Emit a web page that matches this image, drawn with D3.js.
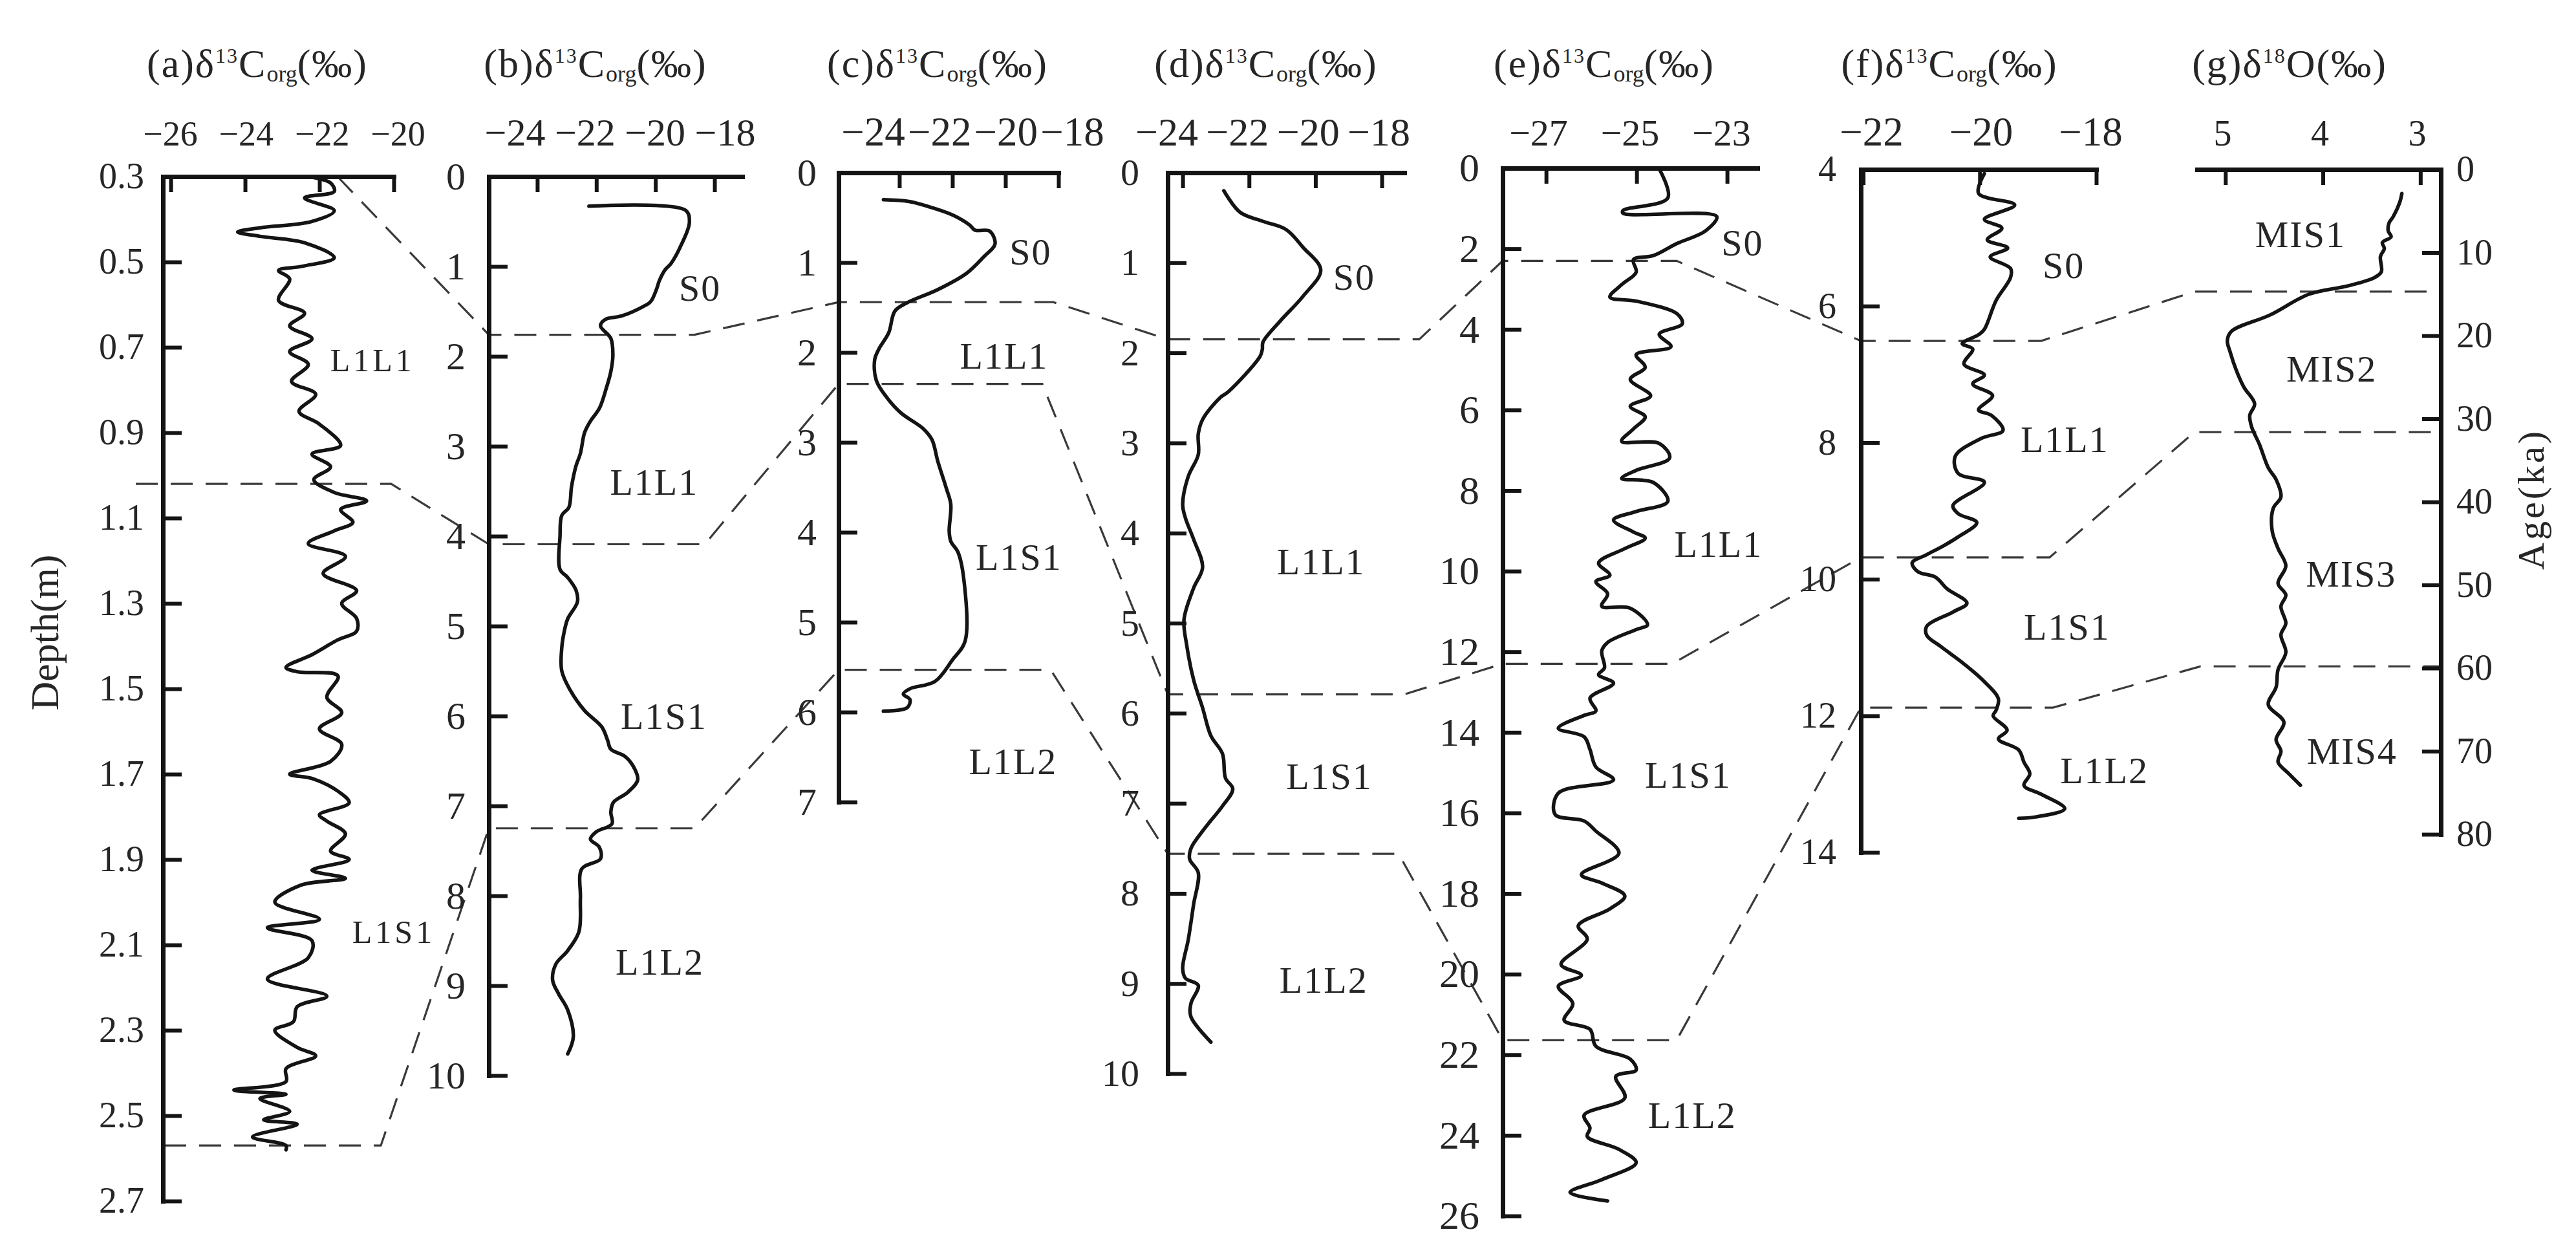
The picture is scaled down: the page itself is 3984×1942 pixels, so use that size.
<!DOCTYPE html>
<html><head><meta charset="utf-8">
<script src="https://cdn.jsdelivr.net/npm/d3@7"></script>
<style>
html,body{margin:0;padding:0;background:#fff;}
svg{display:block;}
</style></head><body>
<svg id="chart" width="3984" height="1942"></svg>
<script>
// ---------------- DATA ----------------
// [depth (m) or age (ka), isotope value (‰)]
const seriesA = [[0.30,-22.3],[0.315,-21.7],[0.335,-21.6],[0.35,-22.4],[0.38,-21.6],[0.405,-22.2],[0.42,-23.6],[0.43,-24.2],[0.44,-23.6],[0.455,-22.4],[0.49,-21.6],[0.51,-22.45],[0.52,-23.1],[0.54,-22.8],[0.59,-23.1],[0.62,-22.4],[0.65,-22.8],[0.68,-22.2],[0.71,-22.8],[0.74,-22.3],[0.78,-22.75],[0.81,-22.1],[0.85,-22.55],[0.88,-22.0],[0.93,-21.43],[0.95,-22.2],[0.98,-21.7],[1.01,-22.15],[1.04,-21.6],[1.06,-20.73],[1.08,-21.43],[1.11,-21.1],[1.13,-21.6],[1.16,-22.3],[1.19,-21.3],[1.23,-21.9],[1.27,-21.0],[1.30,-21.4],[1.335,-21.0],[1.365,-21.0],[1.385,-21.5],[1.42,-22.2],[1.45,-22.9],[1.46,-22.6],[1.47,-21.5],[1.52,-21.8],[1.556,-21.4],[1.594,-22.0],[1.63,-21.4],[1.67,-21.7],[1.70,-22.8],[1.71,-22.2],[1.74,-21.5],[1.767,-21.2],[1.795,-22.0],[1.81,-21.8],[1.84,-21.3],[1.88,-21.7],[1.90,-21.2],[1.925,-22.2],[1.944,-21.3],[1.96,-22.5],[2.0,-23.2],[2.04,-22.0],[2.06,-23.4],[2.09,-22.2],[2.13,-22.3],[2.18,-23.4],[2.22,-21.8],[2.245,-22.6],[2.28,-22.7],[2.30,-23.2],[2.34,-22.6],[2.36,-22.1],[2.39,-22.9],[2.42,-22.9],[2.44,-24.3],[2.45,-22.9],[2.46,-23.6],[2.49,-22.8],[2.51,-23.5],[2.52,-22.6],[2.55,-23.8],[2.57,-22.9],[2.58,-22.9]];
const seriesB = [[0.33,-22.25],[0.375,-18.98],[0.51,-18.85],[0.79,-19.17],[0.97,-19.48],[1.04,-19.68],[1.16,-19.87],[1.25,-19.96],[1.39,-20.16],[1.45,-20.44],[1.55,-21.14],[1.59,-21.7],[1.66,-21.86],[1.8,-21.51],[1.98,-21.44],[2.17,-21.51],[2.35,-21.66],[2.58,-21.9],[2.72,-22.2],[2.85,-22.4],[3.08,-22.54],[3.22,-22.69],[3.45,-22.84],[3.68,-22.93],[3.77,-23.17],[4.0,-23.23],[4.37,-23.23],[4.46,-22.97],[4.6,-22.69],[4.73,-22.64],[4.92,-22.97],[5.05,-23.08],[5.24,-23.17],[5.5,-23.17],[5.71,-22.89],[5.94,-22.4],[6.12,-21.82],[6.27,-21.62],[6.37,-21.51],[6.45,-21.03],[6.56,-20.75],[6.71,-20.6],[6.85,-20.94],[6.96,-21.42],[7.07,-21.51],[7.2,-21.47],[7.29,-22.01],[7.37,-22.2],[7.46,-21.9],[7.59,-21.86],[7.7,-22.49],[8.03,-22.54],[8.4,-22.59],[8.61,-22.97],[8.76,-23.37],[8.94,-23.48],[9.09,-23.28],[9.27,-22.97],[9.57,-22.78],[9.76,-22.97]];
const seriesC = [[0.30,-24.6],[0.32,-23.64],[0.38,-22.87],[0.47,-22.0],[0.58,-21.36],[0.64,-21.14],[0.65,-20.6],[0.79,-20.39],[0.94,-20.83],[1.12,-21.47],[1.30,-22.55],[1.45,-23.73],[1.54,-24.17],[1.78,-24.4],[1.96,-24.77],[2.08,-24.93],[2.31,-24.87],[2.49,-24.5],[2.67,-23.95],[2.85,-23.09],[2.97,-22.77],[3.21,-22.55],[3.51,-22.23],[3.69,-22.06],[3.99,-22.12],[4.1,-22.06],[4.22,-21.79],[4.52,-21.57],[5.21,-21.52],[5.42,-22.0],[5.66,-22.66],[5.74,-23.6],[5.8,-23.85],[5.86,-23.6],[5.95,-23.7],[5.99,-24.6]];
const seriesD = [[0.2,-22.76],[0.44,-22.27],[0.54,-21.58],[0.63,-20.89],[0.83,-20.37],[1.08,-19.84],[1.37,-20.37],[1.65,-21.07],[1.88,-21.58],[1.96,-21.6],[2.04,-21.67],[2.43,-22.62],[2.5,-22.88],[2.74,-23.4],[2.9,-23.53],[3.13,-23.53],[3.37,-23.83],[3.68,-24.0],[3.83,-23.92],[4.07,-23.67],[4.38,-23.4],[4.61,-23.67],[4.96,-23.96],[5.24,-23.88],[5.63,-23.67],[5.94,-23.4],[6.25,-23.15],[6.45,-22.8],[6.72,-22.71],[6.84,-22.49],[7.03,-22.8],[7.27,-23.32],[7.5,-23.75],[7.62,-23.79],[7.77,-23.53],[8.12,-23.67],[8.51,-23.83],[8.83,-24.0],[8.94,-23.92],[9.02,-23.53],[9.22,-23.75],[9.37,-23.75],[9.65,-23.15]];
const seriesE = [[0.02,-24.5],[0.74,-24.31],[1.05,-25.3],[1.12,-25.3],[1.2,-23.23],[1.56,-23.48],[1.87,-24.11],[2.17,-24.63],[2.27,-25.07],[2.58,-25.01],[2.89,-25.33],[3.2,-25.59],[3.3,-25.01],[3.61,-24.11],[3.86,-23.99],[4.12,-24.5],[4.43,-24.24],[4.63,-25.01],[4.94,-24.81],[5.24,-25.14],[5.65,-24.69],[5.91,-25.14],[6.17,-24.81],[6.47,-25.07],[6.78,-25.33],[6.83,-24.5],[7.19,-24.27],[7.5,-25.01],[7.7,-25.33],[7.8,-24.63],[8.27,-24.31],[8.52,-25.01],[8.73,-25.51],[9.03,-25.07],[9.18,-24.81],[9.44,-25.26],[9.8,-25.84],[10.1,-25.59],[10.26,-25.9],[10.56,-25.64],[10.87,-25.77],[10.92,-25.14],[11.33,-24.76],[11.45,-25.01],[11.77,-25.64],[11.98,-25.77],[12.4,-25.71],[12.57,-25.84],[12.78,-25.51],[13.15,-26.03],[13.47,-25.9],[13.58,-26.16],[13.9,-26.73],[14.11,-26.16],[14.43,-26.03],[14.86,-25.9],[15.18,-25.51],[15.51,-26.73],[16.04,-26.8],[16.2,-26.16],[16.45,-25.9],[17.0,-25.39],[17.53,-26.22],[17.74,-25.77],[18.06,-25.26],[18.38,-25.59],[18.8,-26.29],[19.13,-26.09],[19.76,-26.67],[20.03,-26.22],[20.3,-26.73],[20.73,-26.41],[21.15,-26.6],[21.37,-26.03],[21.79,-25.9],[22.11,-25.14],[22.38,-25.01],[22.54,-25.46],[23.07,-25.26],[23.5,-26.16],[23.82,-26.03],[24.03,-26.09],[24.35,-25.39],[24.68,-25.01],[25.1,-25.77],[25.42,-26.47],[25.63,-25.64]];
const seriesF = [[4.06,-19.92],[4.35,-20.02],[4.52,-19.4],[4.73,-19.92],[4.86,-19.62],[5.03,-19.87],[5.15,-19.52],[5.28,-19.82],[5.45,-19.47],[5.58,-19.47],[5.92,-19.72],[6.34,-19.92],[6.42,-20.02],[6.55,-20.3],[6.63,-20.12],[6.85,-20.27],[7.01,-19.92],[7.14,-20.12],[7.31,-19.78],[7.52,-20.02],[7.6,-19.8],[7.82,-19.6],[7.94,-19.98],[8.2,-20.42],[8.45,-20.37],[8.58,-19.92],[8.92,-20.46],[9.04,-20.37],[9.17,-20.05],[9.38,-20.37],[9.51,-20.62],[9.64,-20.91],[9.76,-21.16],[9.89,-21.06],[9.97,-20.76],[10.14,-20.56],[10.35,-20.22],[10.48,-20.46],[10.69,-20.91],[10.82,-20.91],[10.99,-20.66],[11.24,-20.27],[11.5,-19.92],[11.75,-19.68],[11.92,-19.72],[12.0,-19.77],[12.21,-19.53],[12.34,-19.68],[12.5,-19.33],[12.68,-19.24],[12.85,-19.14],[13.02,-19.24],[13.15,-18.94],[13.36,-18.54],[13.48,-19.04],[13.5,-19.33]];
const seriesG = [[2.9,3.19],[3.9,3.21],[5.7,3.28],[6.4,3.32],[7.4,3.33],[8.1,3.30],[8.8,3.39],[9.5,3.37],[10.5,3.41],[12.3,3.40],[13.0,3.47],[14.0,3.74],[15.0,4.14],[17.5,4.54],[19.5,4.94],[20.6,4.98],[22.0,4.95],[24.1,4.89],[26.2,4.81],[28.2,4.70],[29.6,4.75],[31.0,4.73],[33.1,4.65],[35.9,4.56],[37.3,4.48],[39.4,4.43],[40.8,4.51],[43.5,4.52],[45.6,4.46],[47.7,4.38],[49.8,4.46],[51.2,4.38],[52.6,4.43],[54.6,4.38],[56.0,4.43],[58.1,4.38],[60.2,4.46],[62.3,4.48],[64.4,4.56],[66.5,4.40],[68.6,4.48],[70.0,4.43],[71.3,4.46],[72.7,4.35],[74.1,4.23]];

// tick labels
const xTicksA = [-26,-24,-22,-20];
const xTicksBCD = [-24,-22,-20,-18];
const xTicksE = [-27,-25,-23];
const xTicksF = [-22,-20,-18];
const xTicksG = [5,4,3];
const yTicksA = [0.3,0.5,0.7,0.9,1.1,1.3,1.5,1.7,1.9,2.1,2.3,2.5,2.7];
const yTicksB = [0,1,2,3,4,5,6,7,8,9,10];
const yTicksC = [0,1,2,3,4,5,6,7];
const yTicksE = [0,2,4,6,8,10,12,14,16,18,20,22,24,26];
const yTicksF = [4,6,8,10,12,14];
const yTicksG = [0,10,20,30,40,50,60,70,80];

// stratigraphic boundaries per panel a..g (depth / age)
const boundaryS0L1 = [0.3, 1.76, 1.44, 1.85, 2.3, 6.51, 14.7];
const boundaryL1S1 = [1.02, 4.09, 2.35, 5.79, 12.3, 9.68, 31.6];
const boundaryS1L2 = [2.57, 7.25, 5.53, 7.56, 21.64, 11.88, 59.8];

const panelLetters = ['a','b','c','d','e','f','g'];
const unitNames = ['S0','L1L1','L1S1','L1L2'];
const misNames = ['MIS1','MIS2','MIS3','MIS4'];

// ---------------- LAYOUT ----------------
// x0/x1,y0/y1: axis pixel extents; lab: pixel centres of first/last x tick label
const layout = {
  a:{x0:252,x1:609,y0:273,y1:1857,xdom:[-26.21,-20],ydom:[0.3,2.7],gap:29,tx:398,fmt:'.1f',lab:[263,615],fx:54,fy:56,fl:50,ls:5},
  b:{x0:756,x1:1148,y0:273,y1:1663,xdom:[-25.64,-17.06],ydom:[0,10],gap:36,tx:921,fmt:'d',lab:[796,1121],fx:60,fy:60,fl:58,ls:2},
  c:{x0:1297,x1:1637,y0:267,y1:1240,xdom:[-26.29,-18],ydom:[0,7],gap:34,tx:1450,fmt:'d',lab:[1350,1658],fx:63,fy:60,fl:58,ls:2},
  d:{x0:1806,x1:2172,y0:267,y1:1660,xdom:[-24.45,-17.32],ydom:[0,10],gap:44,tx:1958,fmt:'d',lab:[1804,2132],fx:62,fy:58,fl:58,ls:2},
  e:{x0:2324,x1:2718,y0:260,y1:1880,xdom:[-27.96,-22.33],ydom:[0,26],gap:36,tx:2481,fmt:'d',lab:[2379,2662],fx:58,fy:62,fl:58,ls:2},
  f:{x0:2878,x1:3242,y0:262,y1:1318,xdom:[-22.04,-18],ydom:[4,14],gap:38,tx:3015,fmt:'d',lab:[2894,3233],fx:63,fy:56,fl:58,ls:2},
  g:{x0:3398,x1:3775,y0:262,y1:1290,xdom:[5.29,2.79],ydom:[0,80],gap:24,tx:3541,fmt:'d',lab:[3437,3738],fx:56,fy:56,fl:58,ls:2,right:true}
};
// label anchors in data units [value, depth]
const labelAnchors = {
  a:[null,[-20.57,0.73],[-20.0,2.07],null],
  b:[[-18.49,1.24],[-20.04,3.4],[-19.71,6.0],[-19.85,8.74]],
  c:[[-19.05,0.88],[-20.05,2.04],[-19.49,4.28],[-19.71,6.55]],
  d:[[-18.83,1.16],[-19.83,4.32],[-19.58,6.7],[-19.75,8.96]],
  e:[[-22.66,1.86],[-23.19,9.34],[-23.86,15.07],[-23.77,23.5]],
  f:[[-18.56,5.41],[-18.54,7.95],[-18.5,10.7],[-17.86,12.8]],
  g:[[4.23,7.8],[3.91,24.0],[3.71,48.7],[3.70,70.0]]
};
// horizontal extent (px) of each dashed boundary segment inside each panel
const dashExtent = {
  a:[[522,522],[210,605],[254,589]],
  b:[[756,1074],[756,1090],[756,1074]],
  c:[[1297,1629],[1297,1612],[1297,1625]],
  d:[[1806,2195],[1806,2172],[1806,2163]],
  e:[[2324,2593],[2324,2586],[2324,2593]],
  f:[[2878,3157],[2878,3170],[2878,3175]],
  g:[[3394,3775],[3394,3775],[3403,3775]]
};

const FONT = '"Liberation Serif","Times New Roman",serif';
const INK = '#141414', TXT = '#262626';
const svg = d3.select('#chart');
svg.append('rect').attr('width',3984).attr('height',1942).attr('fill','#fff');

const seriesBy = {a:seriesA,b:seriesB,c:seriesC,d:seriesD,e:seriesE,f:seriesF,g:seriesG};
const xTicksBy = {a:xTicksA,b:xTicksBCD,c:xTicksBCD,d:xTicksBCD,e:xTicksE,f:xTicksF,g:xTicksG};
const yTicksBy = {a:yTicksA,b:yTicksB,c:yTicksC,d:yTicksB,e:yTicksE,f:yTicksF,g:yTicksG};
const scales = {};

const dashG = svg.append('g');

panelLetters.forEach(k => {
  const L = layout[k];
  const x = d3.scaleLinear().domain(L.xdom).range([L.x0, L.x1]);
  const y = d3.scaleLinear().domain(L.ydom).range([L.y0, L.y1]);
  scales[k] = {x, y};
  const tks = xTicksBy[k];
  const labX = d3.scaleLinear().domain([tks[0], tks[tks.length-1]]).range(L.lab);
  const g = svg.append('g');

  // top axis
  const ax = d3.axisTop(x).tickValues(tks).tickSizeInner(-24).tickSizeOuter(0)
    .tickPadding(L.y0 - 225).tickFormat(d3.format('d'));
  const axG = g.append('g').attr('transform', `translate(0,${L.y0})`).call(ax);
  axG.attr('font-size', L.fx);
  axG.selectAll('.tick text').attr('x', d => labX(d) - x(d));

  // side axis
  const side = L.right ? d3.axisRight(y) : d3.axisLeft(y);
  side.tickValues(yTicksBy[k]).tickSizeInner(-29).tickSizeOuter(0).tickPadding(L.gap).tickFormat(d3.format(L.fmt));
  const ayG = g.append('g').attr('transform', `translate(${L.right ? L.x1 : L.x0},0)`).call(side);
  ayG.attr('font-size', L.fy);

  [axG, ayG].forEach(s => {
    s.attr('font-family', FONT);
    s.select('.domain').attr('stroke', INK).attr('stroke-width', 7).attr('stroke-linecap','square');
    s.selectAll('.tick line').attr('stroke', INK).attr('stroke-width', 6);
    s.selectAll('.tick text').attr('fill', TXT);
  });

  // curve
  const line = d3.line().x(d => x(d[1])).y(d => y(d[0])).curve(d3.curveCatmullRom.alpha(0.5));
  g.append('path').datum(seriesBy[k]).attr('d', line)
    .attr('fill','none').attr('stroke', INK).attr('stroke-width', 5.5)
    .attr('stroke-linejoin','round').attr('stroke-linecap','round');

  // unit labels
  const names = k === 'g' ? misNames : unitNames;
  labelAnchors[k].forEach((p, i) => {
    if (!p) return;
    g.append('text').attr('x', x(p[0])).attr('y', y(p[1]))
      .attr('text-anchor','middle').attr('dominant-baseline','central')
      .attr('font-family', FONT).attr('font-size', L.fl).attr('letter-spacing', L.ls)
      .attr('fill', TXT).text(names[i]);
  });

  // title
  const t = g.append('text').attr('x', L.tx).attr('y', 119).attr('text-anchor','middle')
    .attr('font-family', FONT).attr('font-size', 62).attr('letter-spacing', 2).attr('fill', TXT);
  if (k === 'g') {
    t.append('tspan').text('(g)δ');
    t.append('tspan').attr('dy', -22).attr('font-size', 32).text('18');
    t.append('tspan').attr('dy', 22).text('O(‰)');
  } else {
    t.append('tspan').text(`(${k})δ`);
    t.append('tspan').attr('dy', -22).attr('font-size', 32).text('13');
    t.append('tspan').attr('dy', 22).text('C');
    t.append('tspan').attr('dy', 7).attr('font-size', 36).attr('letter-spacing', 0).text('org');
    t.append('tspan').attr('dy', -7).text('(‰)');
  }
});

// dashed correlation lines
[boundaryS0L1, boundaryL1S1, boundaryS1L2].forEach((arr, si) => {
  const pts = [];
  panelLetters.forEach((k, i) => {
    const yy = scales[k].y(arr[i]);
    const ext = dashExtent[k][si];
    pts.push([ext[0], yy]);
    pts.push([ext[1], yy]);
  });
  dashG.append('path').attr('d', d3.line()(pts))
    .attr('fill','none').attr('stroke','#3a3a3a').attr('stroke-width',3.2)
    .attr('stroke-dasharray','34,20');
});

// axis titles
svg.append('text').attr('transform','translate(90,978) rotate(-90)')
  .attr('text-anchor','middle')
  .attr('font-family', FONT).attr('font-size', 62).attr('fill', TXT).text('Depth(m)');
svg.append('text').attr('transform','translate(3934,772) rotate(-90)')
  .attr('text-anchor','middle')
  .attr('font-family', FONT).attr('font-size', 58).attr('letter-spacing', 4).attr('fill', TXT).text('Age(ka)');
</script></body></html>
